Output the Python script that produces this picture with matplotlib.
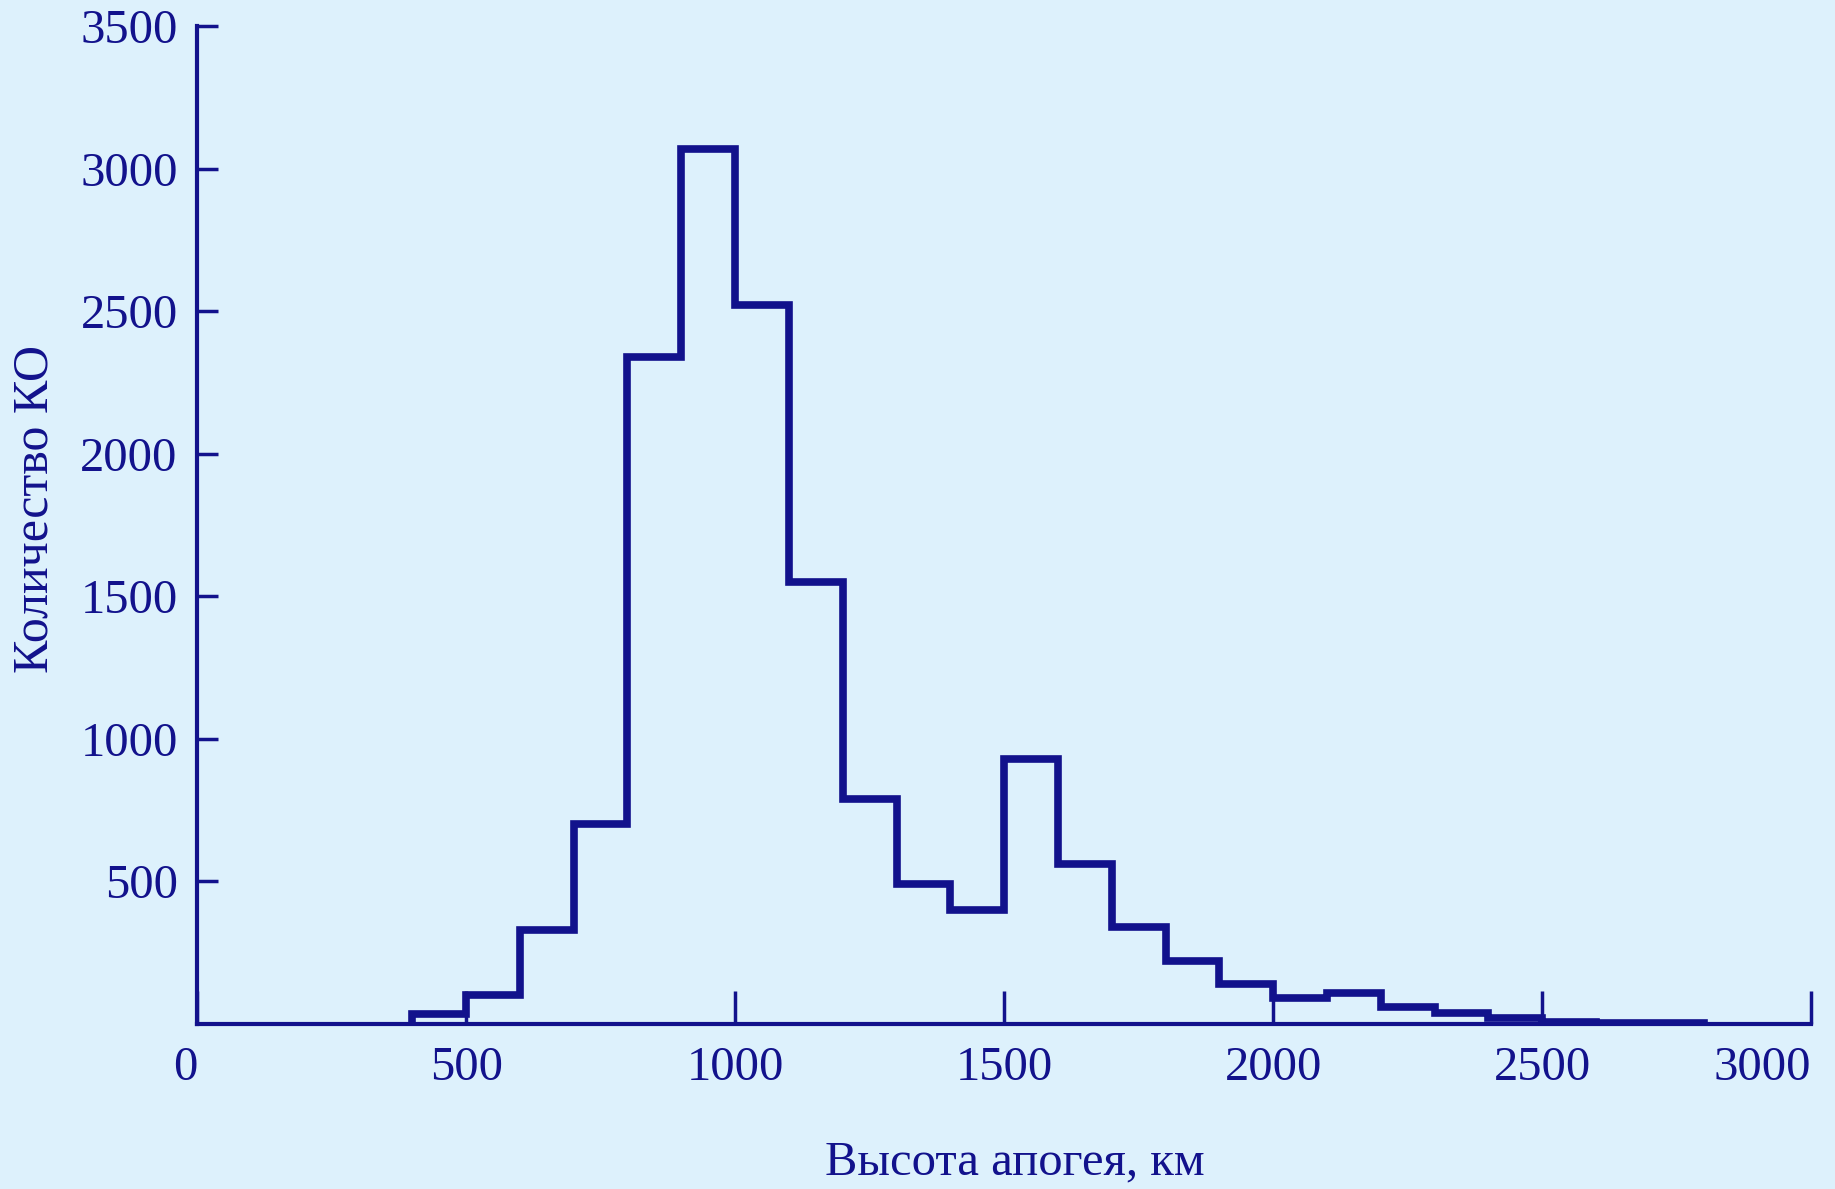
import matplotlib.pyplot as plt
import numpy as np

# apogee height bins, km (100 km wide, tail bin up to 2800)
bin_edges = [400, 500, 600, 700, 800, 900, 1000, 1100, 1200, 1300, 1400, 1500,
             1600, 1700, 1800, 1900, 2000, 2100, 2200, 2300, 2400, 2500,
             2600, 2700, 2800]
# number of space objects per bin
counts = [35, 100, 330, 700, 2340, 3070, 2520, 1550, 790, 490, 400, 930,
          560, 340, 220, 140, 90, 110, 60, 40, 20, 6, 5, 5]

x_ticks = [0, 500, 1000, 1500, 2000, 2500, 3000]
y_ticks = [500, 1000, 1500, 2000, 2500, 3000, 3500]

bg = '#ddf1fc'
ink = '#12128c'

plt.rcParams['font.family'] = ['Liberation Serif', 'DejaVu Serif']

fig = plt.figure(figsize=(18.35, 11.89), dpi=100, facecolor=bg)
ax = fig.add_axes([0.1074, 0.1388, 0.8796, 0.8393])
ax.set_facecolor(bg)

ax.stairs(counts, bin_edges, color=ink, linewidth=5.5)

ax.set_xlim(0, 3000)
ax.set_ylim(0, 3500)
ax.spines['top'].set_visible(False)
ax.spines['right'].set_visible(False)
for s in ['left', 'bottom']:
    ax.spines[s].set_color(ink)
    ax.spines[s].set_linewidth(3)

ax.set_xticks(x_ticks)
ax.set_yticks(y_ticks)
ax.set_xticklabels([str(v) for v in x_ticks])
ax.set_yticklabels([str(v) for v in y_ticks])
ax.tick_params(axis='x', direction='in', length=24, width=2.5, color=ink,
               labelcolor=ink, labelsize=35, pad=16)
ax.tick_params(axis='y', direction='in', length=15, width=2.5, color=ink,
               labelcolor=ink, labelsize=35, pad=14)

# end labels sit inside the axis ends
xlabels = ax.get_xticklabels()
xlabels[0].set_horizontalalignment('right')
xlabels[-1].set_horizontalalignment('right')

fig.text(0.553, 0.022, 'Высота апогея, км', color=ink, fontsize=35,
         ha='center', va='center')
fig.text(0.019, 0.572, 'Количество КО', color=ink, fontsize=36,
         ha='center', va='center', rotation=90)

fig.savefig('out.png', dpi=100, facecolor=bg)
